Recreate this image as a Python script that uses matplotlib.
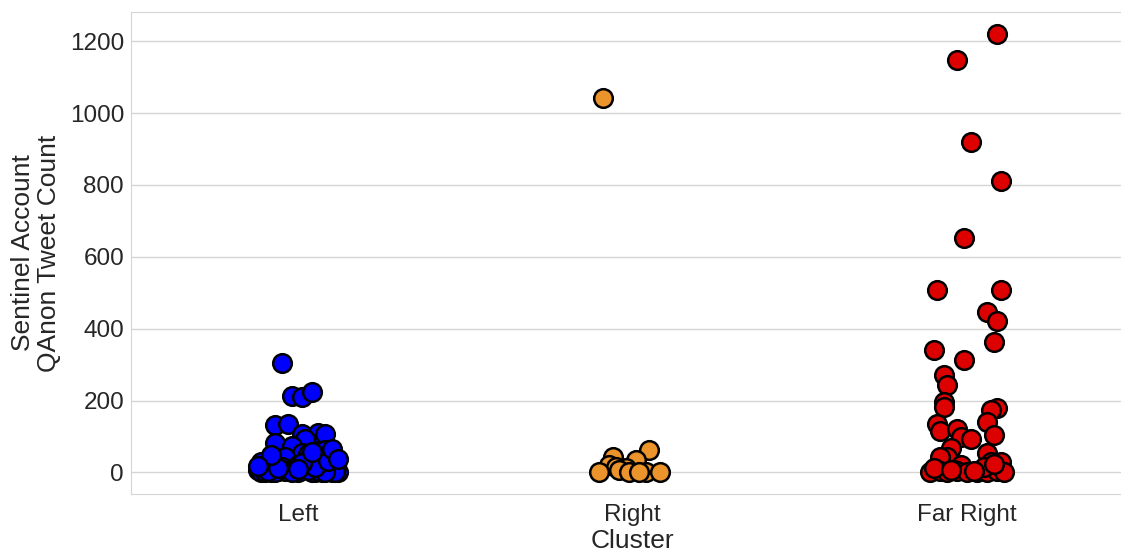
import numpy as np
import matplotlib
matplotlib.use("Agg")
from matplotlib import pyplot as plt
import seaborn as sns

categories = ["Left", "Right", "Far Right"]
colors = ["#0000ff", "#ec942c", "#dd0000"]

# tweet counts per account, with horizontal jitter
left_counts = [305, 214, 210, 224, 131, 134, 108, 110, 108, 83, 93, 73, 55, 50, 62,
               35, 27, 44, 35, 40, 30, 22, 18, 25, 12, 15, 20, 10, 8, 14, 6, 5,
               9, 3, 4, 2, 1, 0, 0, 1, 2, 3, 0, 5, 7, 2, 1, 0, 4, 3, 6, 2, 1, 0,
               11, 16, 26, 31, 48, 58, 65, 38, 19, 9]
left_jitter = [-0.05, -0.02, 0.01, 0.04, -0.07, -0.03, 0.01, 0.06, 0.08, -0.07, 0.02,
               -0.02, 0.01, 0.03, 0.08, -0.09, -0.07, -0.04, 0.1, 0.06, -0.11, 0.0,
               0.05, 0.09, -0.1, -0.05, 0.03, 0.07, -0.08, 0.11, -0.12, -0.06, 0.02,
               0.09, -0.03, -0.11, -0.08, -0.1, 0.12, 0.05, 0.0, -0.04, 0.07, 0.1,
               -0.01, 0.04, -0.07, 0.1, 0.06, -0.09, 0.03, 0.11, 0.08, -0.02, -0.06,
               0.05, 0.01, 0.09, -0.08, 0.04, 0.1, 0.12, -0.12, 0.0]

right_counts = [1043, 62, 44, 35, 21, 16, 12, 7, 2, 2, 1, 1, 0]
right_jitter = [-0.09, 0.05, -0.06, 0.01, -0.07, -0.05, -0.02, -0.04, -0.1, -0.01,
                0.04, 0.08, 0.02]

far_right_counts = [1221, 1147, 919, 810, 653, 508, 508, 447, 422, 362, 342, 313, 272,
                    244, 196, 182, 179, 173, 136, 139, 115, 122, 99, 93, 105, 69, 44,
                    44, 54, 29, 29, 20, 2, 4, 1, 6, 3, 0, 2, 8, 1, 5, 0, 12, 15, 24,
                    3, 7]
far_right_jitter = [0.09, -0.03, 0.01, 0.1, -0.01, -0.09, 0.1, 0.06, 0.09, 0.08, -0.1,
                    -0.01, -0.07, -0.06, -0.07, -0.07, 0.09, 0.07, -0.09, 0.06, -0.08,
                    -0.03, -0.02, 0.01, 0.08, -0.05, -0.06, -0.08, 0.06, 0.1, 0.07,
                    -0.02, -0.11, -0.08, -0.06, -0.04, -0.03, 0.0, 0.03, 0.04, 0.06,
                    0.09, 0.11, -0.1, 0.05, 0.08, 0.02, -0.05]

groups = [(left_counts, left_jitter), (right_counts, right_jitter),
          (far_right_counts, far_right_jitter)]

sns.set_style("whitegrid")
plt.rcParams["font.family"] = ["Liberation Sans", "DejaVu Sans"]

fig = plt.figure(figsize=(11.21, 5.52), dpi=100)
ax = fig.add_axes([131 / 1121, 58 / 552, 1003.5 / 1121, 482 / 552])

for i, (vals, jit) in enumerate(groups):
    ax.scatter(np.array(jit) + i, vals, s=180, color=colors[i],
               edgecolor="black", linewidth=1.8, zorder=3)

ax.set_xlim(-0.5, 2.5)
ax.set_ylim(-60, 1281)
ax.set_xticks(range(3))
ax.set_xticklabels(categories)
ax.set_yticks(range(0, 1201, 200))
ax.grid(axis="x", visible=False)
ax.grid(axis="y", color="#d5d5d5", linewidth=1)
for sp in ax.spines.values():
    sp.set_color("#d5d5d5")
ax.tick_params(labelsize=17.5, colors="#262626", length=0, pad=7)
ax.tick_params(axis="y", pad=5)
ax.set_xlabel("Cluster", fontsize=19, color="#262626", labelpad=2)
ax.set_ylabel("Sentinel Account\nQAnon Tweet Count", fontsize=19, color="#262626",
              labelpad=6, linespacing=1.1)

fig.savefig("out.png", dpi=100)
